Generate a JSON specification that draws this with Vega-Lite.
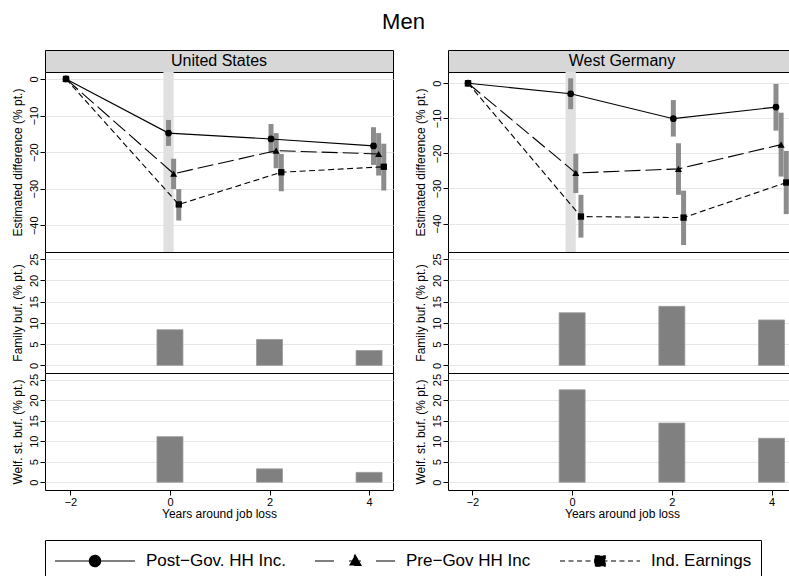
{
  "$schema": "https://vega.github.io/schema/vega-lite/v6.json",
  "padding": {"left": 10, "top": 10, "right": 0, "bottom": 0},
  "title": {"text": "Men", "fontSize": 22, "font": "Liberation Sans", "fontWeight": "normal", "anchor": "middle", "offset": 16, "color": "black"},
  "config": {
    "font": "Liberation Sans",
    "view": {"stroke": "black", "strokeWidth": 1},
    "axis": {"labelFont": "Liberation Sans", "labelFontSize": 11, "labelColor": "black", "titleFont": "Liberation Sans", "titleFontSize": 12, "titleFontWeight": "normal", "titleColor": "black", "tickColor": "black", "tickSize": 5, "domain": false, "gridColor": "#e6e6e6", "gridWidth": 1, "labelFlush": false, "labelOverlap": false},
    "axisY": {"labelAngle": 270, "labelAlign": "center", "labelBaseline": "bottom", "labelPadding": 1, "titlePadding": 4},
    "axisX": {"labelPadding": 1, "titlePadding": 1},
    "legend": {"orient": "bottom"}
  },
  "datasets": {
    "est": [
      {"country": "United States", "series": "Post−Gov. HH Inc.", "t": -2, "est": 0},
      {"country": "United States", "series": "Post−Gov. HH Inc.", "t": 0, "est": -14.8, "lo": -18.3, "hi": -11.2},
      {"country": "United States", "series": "Post−Gov. HH Inc.", "t": 2, "est": -16.4, "lo": -20.3, "hi": -12.3},
      {"country": "United States", "series": "Post−Gov. HH Inc.", "t": 4, "est": -18.3, "lo": -23.5, "hi": -13.2},
      {"country": "United States", "series": "Pre−Gov HH Inc", "t": -2, "est": 0},
      {"country": "United States", "series": "Pre−Gov HH Inc", "t": 0.1, "est": -25.9, "lo": -30.1, "hi": -21.8},
      {"country": "United States", "series": "Pre−Gov HH Inc", "t": 2.1, "est": -19.6, "lo": -24.4, "hi": -14.8},
      {"country": "United States", "series": "Pre−Gov HH Inc", "t": 4.1, "est": -20.5, "lo": -26.4, "hi": -14.8},
      {"country": "United States", "series": "Ind. Earnings", "t": -2, "est": 0},
      {"country": "United States", "series": "Ind. Earnings", "t": 0.2, "est": -34.3, "lo": -38.7, "hi": -30.1},
      {"country": "United States", "series": "Ind. Earnings", "t": 2.2, "est": -25.5, "lo": -30.7, "hi": -20.5},
      {"country": "United States", "series": "Ind. Earnings", "t": 4.2, "est": -24.0, "lo": -30.5, "hi": -17.7},
      {"country": "West Germany", "series": "Post−Gov. HH Inc.", "t": -2, "est": 0},
      {"country": "West Germany", "series": "Post−Gov. HH Inc.", "t": 0, "est": -3.0, "lo": -7.4, "hi": 1.4},
      {"country": "West Germany", "series": "Post−Gov. HH Inc.", "t": 2, "est": -10.1, "lo": -15.2, "hi": -4.8},
      {"country": "West Germany", "series": "Post−Gov. HH Inc.", "t": 4, "est": -6.8, "lo": -13.5, "hi": -0.2},
      {"country": "West Germany", "series": "Pre−Gov HH Inc", "t": -2, "est": 0},
      {"country": "West Germany", "series": "Pre−Gov HH Inc", "t": 0.1, "est": -25.6, "lo": -31.3, "hi": -20.1},
      {"country": "West Germany", "series": "Pre−Gov HH Inc", "t": 2.1, "est": -24.4, "lo": -31.8, "hi": -17.1},
      {"country": "West Germany", "series": "Pre−Gov HH Inc", "t": 4.1, "est": -17.5, "lo": -26.6, "hi": -8.4},
      {"country": "West Germany", "series": "Ind. Earnings", "t": -2, "est": 0},
      {"country": "West Germany", "series": "Ind. Earnings", "t": 0.2, "est": -38.0, "lo": -44.0, "hi": -31.8},
      {"country": "West Germany", "series": "Ind. Earnings", "t": 2.2, "est": -38.3, "lo": -46.1, "hi": -30.6},
      {"country": "West Germany", "series": "Ind. Earnings", "t": 4.2, "est": -28.3, "lo": -37.3, "hi": -19.3}
    ],
    "buf": [
      {"country": "United States", "kind": "Family", "year": 0, "value": 8.4},
      {"country": "United States", "kind": "Family", "year": 2, "value": 6.1},
      {"country": "United States", "kind": "Family", "year": 4, "value": 3.5},
      {"country": "United States", "kind": "Welfare", "year": 0, "value": 11.1},
      {"country": "United States", "kind": "Welfare", "year": 2, "value": 3.25},
      {"country": "United States", "kind": "Welfare", "year": 4, "value": 2.4},
      {"country": "West Germany", "kind": "Family", "year": 0, "value": 12.4},
      {"country": "West Germany", "kind": "Family", "year": 2, "value": 13.9},
      {"country": "West Germany", "kind": "Family", "year": 4, "value": 10.7},
      {"country": "West Germany", "kind": "Welfare", "year": 0, "value": 22.5},
      {"country": "West Germany", "kind": "Welfare", "year": 2, "value": 14.4},
      {"country": "West Germany", "kind": "Welfare", "year": 4, "value": 10.7}
    ],
    "band": [{"from": -0.1, "to": 0.1}]
  },
  "spacing": 19,
  "hconcat": [
    {
      "spacing": 0,
      "bounds": "flush",
      "vconcat": [
        {
          "width": 348, "height": 22,
          "view": {"fill": "#d7d7d7", "stroke": "black"},
          "data": {"values": [{"country": "United States"}]},
          "mark": {"type": "text", "fontSize": 16, "font": "Liberation Sans", "color": "black"},
          "encoding": {"text": {"field": "country"}}
        },
        {
          "width": 348, "height": 180,
          "layer": [
            {
              "data": {"name": "band"},
              "mark": {"type": "rect", "color": "#e0e0e0"},
              "encoding": {
                "x": {"field": "from", "type": "quantitative", "scale": {"domain": [-2.41, 4.38], "nice": false, "zero": false}, "axis": null},
                "x2": {"field": "to"}
              }
            },
            {
              "data": {"name": "est"},
              "transform": [{"filter": "datum.country === 'United States' && isValid(datum.lo)"}],
              "mark": {"type": "rule", "strokeWidth": 5, "color": "#8c8c8c"},
              "encoding": {
                "x": {"field": "t", "type": "quantitative", "scale": {"domain": [-2.41, 4.38], "nice": false, "zero": false}, "axis": null},
                "y": {"field": "lo", "type": "quantitative", "scale": {"domain": [-47.3, 1.9], "nice": false, "zero": false}, "axis": {"values": [-40, -30, -20, -10, 0], "title": "Estimated difference (% pt.)", "grid": true}},
                "y2": {"field": "hi"}
              }
            },
            {
              "data": {"name": "est"},
              "transform": [{"filter": "datum.country === 'United States' && datum.series === 'Post−Gov. HH Inc.'"}],
              "mark": {"type": "line", "color": "black", "strokeWidth": 1.1},
              "encoding": {"x": {"field": "t", "type": "quantitative"}, "y": {"field": "est", "type": "quantitative"}}
            },
            {
              "data": {"name": "est"},
              "transform": [{"filter": "datum.country === 'United States' && datum.series === 'Pre−Gov HH Inc'"}],
              "mark": {"type": "line", "color": "black", "strokeWidth": 1.1, "strokeDash": [16, 5]},
              "encoding": {"x": {"field": "t", "type": "quantitative"}, "y": {"field": "est", "type": "quantitative"}}
            },
            {
              "data": {"name": "est"},
              "transform": [{"filter": "datum.country === 'United States' && datum.series === 'Ind. Earnings'"}],
              "mark": {"type": "line", "color": "black", "strokeWidth": 1.1, "strokeDash": [6, 3.5]},
              "encoding": {"x": {"field": "t", "type": "quantitative"}, "y": {"field": "est", "type": "quantitative"}}
            },
            {
              "data": {"name": "est"},
              "transform": [{"filter": "datum.country === 'United States' && datum.series === 'Post−Gov. HH Inc.'"}],
              "mark": {"type": "point", "shape": "circle", "filled": true, "color": "black", "opacity": 1, "size": 45},
              "encoding": {"x": {"field": "t", "type": "quantitative"}, "y": {"field": "est", "type": "quantitative"}}
            },
            {
              "data": {"name": "est"},
              "transform": [{"filter": "datum.country === 'United States' && datum.series === 'Pre−Gov HH Inc'"}],
              "mark": {"type": "point", "shape": "triangle-up", "filled": true, "color": "black", "opacity": 1, "size": 50},
              "encoding": {"x": {"field": "t", "type": "quantitative"}, "y": {"field": "est", "type": "quantitative"}}
            },
            {
              "data": {"name": "est"},
              "transform": [{"filter": "datum.country === 'United States' && datum.series === 'Ind. Earnings'"}],
              "mark": {"type": "point", "shape": "square", "filled": true, "color": "black", "opacity": 1, "size": 40},
              "encoding": {"x": {"field": "t", "type": "quantitative"}, "y": {"field": "est", "type": "quantitative"}}
            },
            {
              "data": {"name": "est"},
              "transform": [{"filter": "false"}],
              "mark": {"type": "point", "filled": true, "color": "black", "stroke": "black", "strokeWidth": 1.2, "opacity": 1},
              "encoding": {
                "x": {"field": "t", "type": "quantitative"},
                "y": {"field": "est", "type": "quantitative"},
                "shape": {
                  "field": "series", "type": "nominal",
                  "scale": {"domain": ["Post−Gov. HH Inc.", "Pre−Gov HH Inc", "Ind. Earnings"], "range": ["M-1,0H1M0.14,0A0.14,0.14,0,1,1,-0.14,0A0.14,0.14,0,1,1,0.14,0Z", "M-1,0H1M0,-0.15L0.15,0.11L-0.15,0.11Z", "M-1,0H1M-0.13,-0.13H0.13V0.13H-0.13Z"]},
                  "legend": {
                    "title": null, "orient": "bottom", "direction": "horizontal",
                    "symbolSize": 6400, "clipHeight": 24, "labelOffset": 10, "columnPadding": 28,
                    "padding": 9, "strokeColor": "black", "fillColor": "white", "offset": 20,
                    "labelFont": "Liberation Sans", "labelFontSize": 17, "labelColor": "black", "labelLimit": 0,
                    "symbolStrokeWidth": 1.2
                  }
                },
                "strokeDash": {
                  "field": "series", "type": "nominal",
                  "scale": {"domain": ["Post−Gov. HH Inc.", "Pre−Gov HH Inc", "Ind. Earnings"], "range": [[1, 0], [19, 15, 12, 15, 19, 0], [5, 3.5]]},
                  "legend": {
                    "title": null, "orient": "bottom", "direction": "horizontal",
                    "symbolSize": 6400, "clipHeight": 24, "labelOffset": 10, "columnPadding": 28,
                    "padding": 9, "strokeColor": "black", "fillColor": "white", "offset": 20,
                    "labelFont": "Liberation Sans", "labelFontSize": 17, "labelColor": "black", "labelLimit": 0,
                    "symbolStrokeWidth": 1.2
                  }
                }
              }
            }
          ]
        },
        {
          "width": 348, "height": 121,
          "data": {"name": "buf"},
          "transform": [{"filter": "datum.country === 'United States' && datum.kind === 'Family'"}],
          "mark": {"type": "bar", "width": 26, "color": "#808080", "stroke": "#9a9a9a", "strokeWidth": 0.8},
          "encoding": {
            "x": {"field": "year", "type": "quantitative", "scale": {"domain": [-2.41, 4.38], "nice": false, "zero": false}, "axis": null},
            "y": {"field": "value", "type": "quantitative", "scale": {"domain": [-1.8, 26.7], "nice": false, "zero": false}, "axis": {"values": [0, 5, 10, 15, 20, 25], "title": "Family buf. (% pt.)", "grid": true}},
            "y2": {"datum": 0}
          }
        },
        {
          "width": 348, "height": 117,
          "data": {"name": "buf"},
          "transform": [{"filter": "datum.country === 'United States' && datum.kind === 'Welfare'"}],
          "mark": {"type": "bar", "width": 26, "color": "#808080", "stroke": "#9a9a9a", "strokeWidth": 0.8},
          "encoding": {
            "x": {"field": "year", "type": "quantitative", "scale": {"domain": [-2.41, 4.38], "nice": false, "zero": false}, "axis": {"values": [-2, 0, 2, 4], "format": "d", "title": "Years around job loss", "grid": false}},
            "y": {"field": "value", "type": "quantitative", "scale": {"domain": [-1.9, 26.6], "nice": false, "zero": false}, "axis": {"values": [0, 5, 10, 15, 20, 25], "title": "Welf. st. buf. (% pt.)", "grid": true}},
            "y2": {"datum": 0}
          }
        }
      ]
    },
    {
      "spacing": 0,
      "bounds": "flush",
      "vconcat": [
        {
          "width": 348, "height": 22,
          "view": {"fill": "#d7d7d7", "stroke": "black"},
          "data": {"values": [{"country": "West Germany"}]},
          "mark": {"type": "text", "fontSize": 16, "font": "Liberation Sans", "color": "black"},
          "encoding": {"text": {"field": "country"}}
        },
        {
          "width": 348, "height": 180,
          "layer": [
            {
              "data": {"name": "band"},
              "mark": {"type": "rect", "color": "#e0e0e0"},
              "encoding": {
                "x": {"field": "from", "type": "quantitative", "scale": {"domain": [-2.39, 4.39], "nice": false, "zero": false}, "axis": null},
                "x2": {"field": "to"}
              }
            },
            {
              "data": {"name": "est"},
              "transform": [{"filter": "datum.country === 'West Germany' && isValid(datum.lo)"}],
              "mark": {"type": "rule", "strokeWidth": 5, "color": "#8c8c8c"},
              "encoding": {
                "x": {"field": "t", "type": "quantitative", "scale": {"domain": [-2.39, 4.39], "nice": false, "zero": false}, "axis": null},
                "y": {"field": "lo", "type": "quantitative", "scale": {"domain": [-48.1, 3.2], "nice": false, "zero": false}, "axis": {"values": [-40, -30, -20, -10, 0], "title": "Estimated difference (% pt.)", "grid": true}},
                "y2": {"field": "hi"}
              }
            },
            {
              "data": {"name": "est"},
              "transform": [{"filter": "datum.country === 'West Germany' && datum.series === 'Post−Gov. HH Inc.'"}],
              "mark": {"type": "line", "color": "black", "strokeWidth": 1.1},
              "encoding": {"x": {"field": "t", "type": "quantitative"}, "y": {"field": "est", "type": "quantitative"}}
            },
            {
              "data": {"name": "est"},
              "transform": [{"filter": "datum.country === 'West Germany' && datum.series === 'Pre−Gov HH Inc'"}],
              "mark": {"type": "line", "color": "black", "strokeWidth": 1.1, "strokeDash": [16, 5]},
              "encoding": {"x": {"field": "t", "type": "quantitative"}, "y": {"field": "est", "type": "quantitative"}}
            },
            {
              "data": {"name": "est"},
              "transform": [{"filter": "datum.country === 'West Germany' && datum.series === 'Ind. Earnings'"}],
              "mark": {"type": "line", "color": "black", "strokeWidth": 1.1, "strokeDash": [6, 3.5]},
              "encoding": {"x": {"field": "t", "type": "quantitative"}, "y": {"field": "est", "type": "quantitative"}}
            },
            {
              "data": {"name": "est"},
              "transform": [{"filter": "datum.country === 'West Germany' && datum.series === 'Post−Gov. HH Inc.'"}],
              "mark": {"type": "point", "shape": "circle", "filled": true, "color": "black", "opacity": 1, "size": 45},
              "encoding": {"x": {"field": "t", "type": "quantitative"}, "y": {"field": "est", "type": "quantitative"}}
            },
            {
              "data": {"name": "est"},
              "transform": [{"filter": "datum.country === 'West Germany' && datum.series === 'Pre−Gov HH Inc'"}],
              "mark": {"type": "point", "shape": "triangle-up", "filled": true, "color": "black", "opacity": 1, "size": 50},
              "encoding": {"x": {"field": "t", "type": "quantitative"}, "y": {"field": "est", "type": "quantitative"}}
            },
            {
              "data": {"name": "est"},
              "transform": [{"filter": "datum.country === 'West Germany' && datum.series === 'Ind. Earnings'"}],
              "mark": {"type": "point", "shape": "square", "filled": true, "color": "black", "opacity": 1, "size": 40},
              "encoding": {"x": {"field": "t", "type": "quantitative"}, "y": {"field": "est", "type": "quantitative"}}
            }
          ]
        },
        {
          "width": 348, "height": 121,
          "data": {"name": "buf"},
          "transform": [{"filter": "datum.country === 'West Germany' && datum.kind === 'Family'"}],
          "mark": {"type": "bar", "width": 26, "color": "#808080", "stroke": "#9a9a9a", "strokeWidth": 0.8},
          "encoding": {
            "x": {"field": "year", "type": "quantitative", "scale": {"domain": [-2.39, 4.39], "nice": false, "zero": false}, "axis": null},
            "y": {"field": "value", "type": "quantitative", "scale": {"domain": [-1.8, 26.7], "nice": false, "zero": false}, "axis": {"values": [0, 5, 10, 15, 20, 25], "title": "Family buf. (% pt.)", "grid": true}},
            "y2": {"datum": 0}
          }
        },
        {
          "width": 348, "height": 117,
          "data": {"name": "buf"},
          "transform": [{"filter": "datum.country === 'West Germany' && datum.kind === 'Welfare'"}],
          "mark": {"type": "bar", "width": 26, "color": "#808080", "stroke": "#9a9a9a", "strokeWidth": 0.8},
          "encoding": {
            "x": {"field": "year", "type": "quantitative", "scale": {"domain": [-2.39, 4.39], "nice": false, "zero": false}, "axis": {"values": [-2, 0, 2, 4], "format": "d", "title": "Years around job loss", "grid": false}},
            "y": {"field": "value", "type": "quantitative", "scale": {"domain": [-1.9, 26.6], "nice": false, "zero": false}, "axis": {"values": [0, 5, 10, 15, 20, 25], "title": "Welf. st. buf. (% pt.)", "grid": true}},
            "y2": {"datum": 0}
          }
        }
      ]
    }
  ]
}
